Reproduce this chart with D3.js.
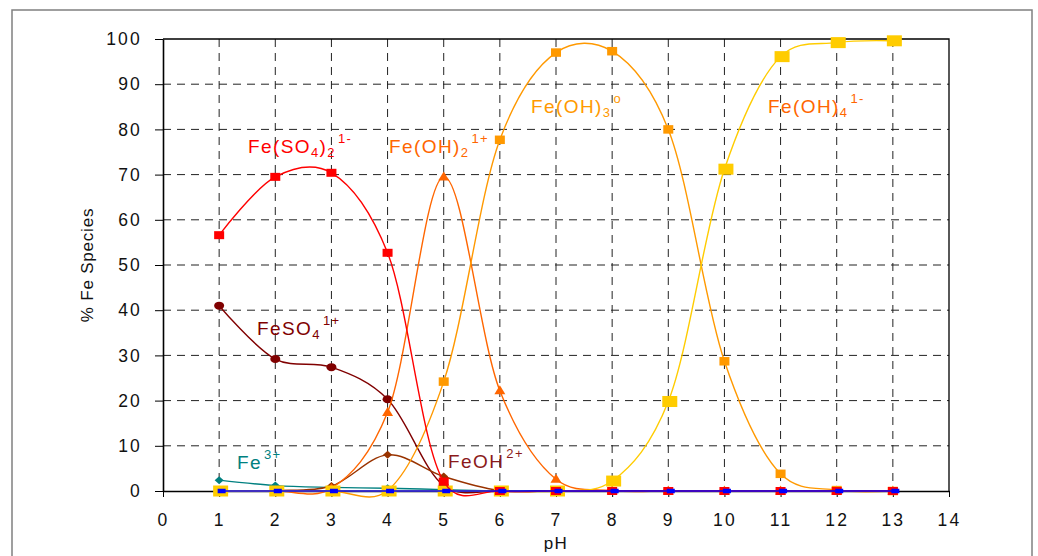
<!DOCTYPE html>
<html>
<head>
<meta charset="utf-8">
<script src="https://cdn.jsdelivr.net/npm/d3@7"></script>
<style>
  html, body { margin: 0; padding: 0; background: #fff; }
  svg { display: block; font-family: "Liberation Sans", Arial, sans-serif; }
</style>
</head>
<body>
<svg id="chart" width="1038" height="556"></svg>
<script>
// ---------- data ----------
const pH = [1, 2, 3, 4, 5, 6, 7, 8, 9, 10, 11, 12, 13];
const xTicks = [0, 1, 2, 3, 4, 5, 6, 7, 8, 9, 10, 11, 12, 13, 14];
const yTicks = [0, 10, 20, 30, 40, 50, 60, 70, 80, 90, 100];

const fe3 =      [2.4, 1.2, 0.8, 0.6, 0.3, 0, 0, 0, 0, 0, 0, 0, 0];
const feSO4 =    [41.0, 29.2, 27.4, 20.3, 1.2, 0, 0, 0, 0, 0, 0, 0, 0];
const feOH =     [0, 0.1, 1.1, 8.0, 3.2, 0.1, 0, 0, 0, 0, 0, 0, 0];
const feOH2 =    [0, 0, 0.6, 17.4, 69.5, 22.2, 2.6, 0.1, 0, 0, 0, 0, 0];
const feOH3 =    [0, 0, 0, 0.1, 24.2, 77.7, 97.0, 97.3, 80.0, 28.7, 3.8, 0.2, 0];
const feOH4 =    [0, 0, 0, 0, 0, 0, 0, 2.2, 19.8, 71.2, 96.1, 99.2, 99.6];
const feSO42 =   [56.6, 69.5, 70.4, 52.7, 2.1, 0, 0, 0, 0, 0, 0, 0, 0];
const other =    [0, 0, 0, 0, 0, 0, 0, 0, 0, 0, 0, 0, 0];

// ---------- layout ----------
const svg = d3.select("#chart");
const x = d3.scaleLinear().domain([0, 14]).range([163, 949]);
const y = d3.scaleLinear().domain([0, 100]).range([491, 39]);

// outer frame
svg.append("rect").attr("x", 12).attr("y", 10).attr("width", 1020).attr("height", 570)
  .attr("fill", "none").attr("stroke", "#808080").attr("stroke-width", 1.5);

// grid
const grid = svg.append("g");
grid.selectAll("line.h").data(yTicks.filter(d => d > 0 && d < 100)).enter().append("line")
  .attr("x1", x(0)).attr("x2", x(14)).attr("y1", d => y(d)).attr("y2", d => y(d))
  .attr("stroke", "#222").attr("stroke-width", 1).attr("stroke-dasharray", "8,6");
grid.selectAll("line.v").data(xTicks.filter(d => d > 0 && d < 14)).enter().append("line")
  .attr("x1", d => x(d)).attr("x2", d => x(d)).attr("y1", y(100)).attr("y2", y(0))
  .attr("stroke", "#222").attr("stroke-width", 1).attr("stroke-dasharray", "8,6");
// top & right border
svg.append("path")
  .attr("d", `M${x(0)},${y(100)}H${x(14)}V${y(0)}`)
  .attr("fill", "none").attr("stroke", "#000").attr("stroke-width", 1.3);

// axes
const yAxis = svg.append("g").attr("transform", `translate(${x(0)},0)`)
  .call(d3.axisLeft(y).tickValues(yTicks).tickSize(8).tickPadding(13).tickSizeOuter(0));
const xAxis = svg.append("g").attr("transform", `translate(0,${y(0)})`)
  .call(d3.axisBottom(x).tickValues(xTicks).tickSize(6).tickPadding(17).tickSizeOuter(0));
[yAxis, xAxis].forEach(a => {
  a.select(".domain").attr("stroke", "#000").attr("stroke-width", 1.6);
  a.selectAll(".tick line").attr("stroke", "#000").attr("stroke-width", 1);
  a.selectAll(".tick text").attr("fill", "#111").attr("font-size", 17.5)
    .attr("font-family", "Liberation Sans, Arial, sans-serif").style("letter-spacing", "2.2px");
});

// axis titles
svg.append("text").attr("x", (x(0) + x(14)) / 2).attr("y", 549).attr("text-anchor", "middle")
  .attr("font-size", 17).style("letter-spacing", "1.5px").attr("fill", "#111").text("pH");
svg.append("text").attr("transform", `translate(93,${(y(0) + y(100)) / 2}) rotate(-90)`)
  .attr("text-anchor", "middle").attr("font-size", 17).style("letter-spacing", "0.8px")
  .attr("fill", "#111").text("% Fe Species");

// ---------- series ----------
const line = d3.line().x((d, i) => x(pH[i])).y(d => y(d)).curve(d3.curveCatmullRom.alpha(0.2));

function series(vals, color, marker, w, h, dx) {
  const g = svg.append("g");
  g.append("path").attr("d", line(vals)).attr("fill", "none")
    .attr("stroke", color).attr("stroke-width", 1.4);
  const pts = g.selectAll("g.m").data(vals).enter().append("g")
    .attr("transform", (d, i) => `translate(${x(pH[i]) + (dx || 0)},${y(d)})`);
  if (marker === "square") {
    pts.append("rect").attr("x", -w / 2).attr("y", -h / 2).attr("width", w).attr("height", h).attr("fill", color);
  } else if (marker === "circle") {
    pts.append("ellipse").attr("rx", w / 2).attr("ry", h / 2).attr("fill", color);
  } else if (marker === "diamond") {
    pts.append("path").attr("d", `M0,${-h/2}L${w/2},0L0,${h/2}L${-w/2},0Z`).attr("fill", color);
  } else if (marker === "triangle") {
    pts.append("path").attr("d", `M0,${-h*0.6}L${w/2},${h*0.4}L${-w/2},${h*0.4}Z`).attr("fill", color);
  }
}

series(fe3, "#008080", "diamond", 9, 8);
series(feSO4, "#800000", "circle", 10, 8);
series(feOH, "#993300", "diamond", 9, 8);
series(feOH2, "#FF6600", "triangle", 11, 9);
series(feOH3, "#FF9900", "square", 10, 8.5);
series(feOH4, "#FFCC00", "square", 15, 11, 1.5);
series(feSO42, "#FF0000", "square", 10, 8);
series(other, "#0000FF", "square", 8, 4.5, 2.5);

// ---------- labels ----------
const labels = [
  { x: 248, y: 153, color: "#FF0000", parts: [["Fe(SO", 0], ["4", 1], [")", 0], ["2", 1], ["1-", 2]] },
  { x: 389, y: 153, color: "#FF6600", parts: [["Fe(OH)", 0], ["2", 1], ["1+", 2]] },
  { x: 531, y: 113, color: "#FF9900", parts: [["Fe(OH)", 0], ["3", 1], ["o", 2]] },
  { x: 768, y: 113, color: "#FF6600", parts: [["Fe(OH)", 0], ["4", 1], ["1-", 2]] },
  { x: 257, y: 335, color: "#800000", parts: [["FeSO", 0], ["4", 1], ["1+", 2]] },
  { x: 237, y: 469, color: "#008080", parts: [["Fe", 0], ["3+", 2]] },
  { x: 448, y: 468, color: "#8B1A1A", parts: [["FeOH", 0], ["2+", 2]] }
];
const shift = [0, 4, -10];
labels.forEach(L => {
  const t = svg.append("text").attr("x", L.x).attr("y", L.y).attr("fill", L.color)
    .attr("font-size", 19).style("letter-spacing", "1.4px");
  let prev = 0;
  L.parts.forEach(([s, k]) => {
    t.append("tspan").attr("dy", shift[k] - prev).attr("font-size", k ? 13 : 19)
      .attr("dx", k === 2 ? 2 : 0).text(s);
    prev = shift[k];
  });
});
</script>
</body>
</html>
